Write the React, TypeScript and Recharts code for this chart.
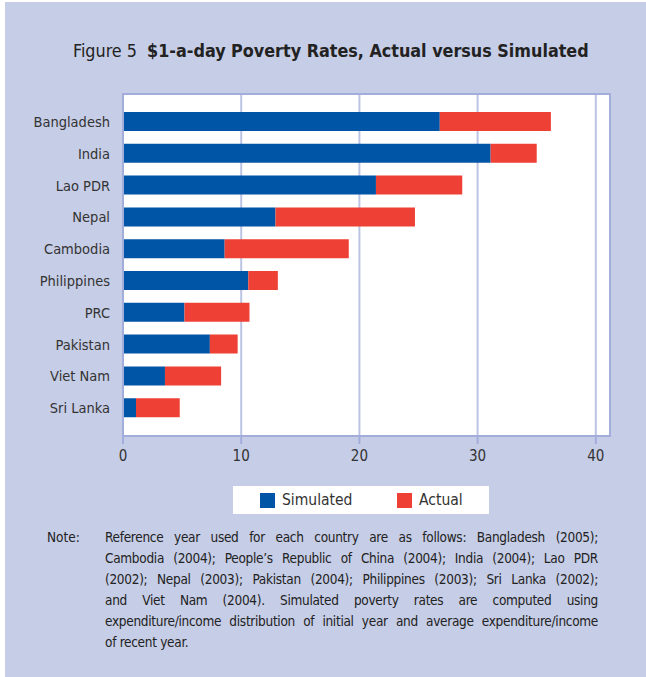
import React from 'react';
import { BarChart, Bar, XAxis, YAxis, CartesianGrid } from 'recharts';

const countries = ['Bangladesh', 'India', 'Lao PDR', 'Nepal', 'Cambodia', 'Philippines', 'PRC', 'Pakistan', 'Viet Nam', 'Sri Lanka'];
const simulated = [26.8, 31.1, 21.4, 12.9, 8.6, 10.6, 5.2, 7.35, 3.55, 1.1];
const actual = [36.2, 35.0, 28.7, 24.7, 19.1, 13.1, 10.7, 9.7, 8.3, 4.8];
const xTicks = [0, 10, 20, 30, 40];

const seriesNames = ['Simulated', 'Actual'];
const BLUE = '#0055a6';
const RED = '#ee4035';
const PANEL = '#c6cde6';
const FRAME = '#a3addb';
const GRID = '#bcc4e4';
const FONT = '"Liberation Sans Narrow", "DejaVu Sans Condensed", "Noto Sans", sans-serif';

// note lines as broken in the original
const noteLines = [
  'Reference year used for each country are as follows: Bangladesh (2005);',
  'Cambodia (2004); People\u2019s Republic of China (2004); India (2004); Lao PDR',
  '(2002); Nepal (2003); Pakistan (2004); Philippines (2003); Sri Lanka (2002);',
  'and Viet Nam (2004). Simulated poverty rates are computed using',
  'expenditure/income distribution of initial year and average expenditure/income',
  'of recent year.',
];

// red part is stacked on top of the blue, so its length is the gap
const data = countries.map((name, i) => ({
  name,
  simulated: simulated[i],
  gap: +(actual[i] - simulated[i]).toFixed(2),
}));

export default function App() {
  return (
    <div style={{ position: 'fixed', left: 0, top: 0, width: 646, height: 677, background: '#fff', fontFamily: FONT }}>
      <div style={{ position: 'absolute', left: 5, top: 2, width: 641, height: 675, background: PANEL }} />

      <div style={{ position: 'absolute', left: 73, top: 39, fontSize: 17.8, color: '#222', whiteSpace: 'nowrap', lineHeight: '24px' }}>
        Figure 5&nbsp;&nbsp;<b>$1-a-day Poverty Rates, Actual versus Simulated</b>
      </div>

      <div style={{ position: 'absolute', left: 0, top: 0 }}>
        <BarChart
          width={646}
          height={480}
          data={data}
          layout="vertical"
          margin={{ top: 94, right: 36, bottom: 0, left: 13 }}
        >
          <CartesianGrid horizontal={false} stroke={GRID} strokeWidth={2} fill="#fff" />
          <XAxis
            type="number"
            domain={[0, 41.2]}
            ticks={xTicks}
            axisLine={false}
            tickLine={{ stroke: FRAME, strokeWidth: 2 }}
            tickSize={8}
            tickMargin={6}
            tick={{ fontSize: 15, fill: '#333', fontFamily: FONT }}
            height={44}
          />
          <YAxis
            type="category"
            dataKey="name"
            width={110}
            axisLine={false}
            tickLine={false}
            tickSize={0}
            tickMargin={13}
            padding={{ top: 12, bottom: 12 }}
            tick={{ fontSize: 14.5, fill: '#333', fontFamily: FONT }}
            interval={0}
          />
          <Bar dataKey="simulated" name={seriesNames[0]} stackId="a" fill={BLUE} barSize={19} isAnimationActive={false} />
          <Bar dataKey="gap" name={seriesNames[1]} stackId="a" fill={RED} barSize={19} isAnimationActive={false} />
        </BarChart>
      </div>

      {/* plot frame */}
      <div
        style={{
          position: 'absolute', left: 122, top: 93, width: 489, height: 344,
          border: `2px solid ${FRAME}`, boxSizing: 'border-box', pointerEvents: 'none',
        }}
      />

      {/* legend */}
      <div style={{ position: 'absolute', left: 233, top: 486, width: 256, height: 28, background: '#fff' }}>
        {seriesNames.map((n, i) => (
          <div key={n} style={{ position: 'absolute', left: i === 0 ? 27 : 164, top: 6, display: 'flex', alignItems: 'center' }}>
            <span style={{ width: 15, height: 15, background: i === 0 ? BLUE : RED, display: 'inline-block' }} />
            <span style={{ marginLeft: 7, fontSize: 15.5, color: '#333', lineHeight: '16px' }}>{n}</span>
          </div>
        ))}
      </div>

      {/* note */}
      <div style={{ position: 'absolute', left: 47, top: 527, fontSize: 13.5, color: '#222', lineHeight: '21px' }}>Note:</div>
      <div style={{ position: 'absolute', left: 105, top: 527, width: 493, fontSize: 13.5, letterSpacing: -0.3, color: '#222', lineHeight: '21px' }}>
        {noteLines.map((line, i) => (
          <div
            key={i}
            style={{
              whiteSpace: 'nowrap',
              textAlign: 'justify',
              textAlignLast: i < noteLines.length - 1 ? 'justify' : 'left',
            }}
          >
            {line}
          </div>
        ))}
      </div>
    </div>
  );
}
